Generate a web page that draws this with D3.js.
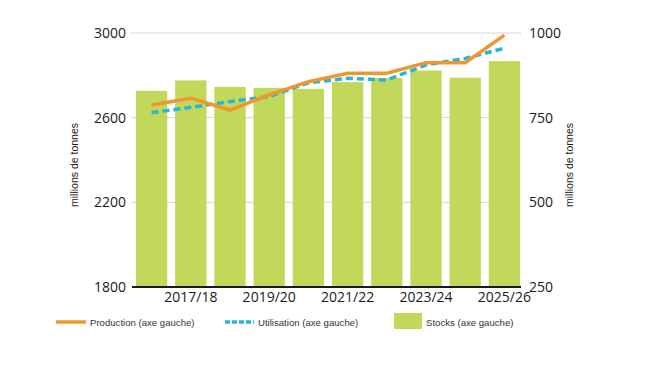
<!DOCTYPE html>
<html lang="fr">
<head>
<meta charset="UTF-8">
<title>Production, utilisation et stocks</title>
<script src="https://d3js.org/d3.v7.min.js"></script>
<style>
  body { margin: 0; background: #fff; }
  svg text { font-family: "Open Sans", "Noto Sans", sans-serif; fill: #1a1a1a; }
  .legend text { font-family: "Liberation Sans", Arial, sans-serif; font-size: 9.6px; fill: #333; }
  .ytitle { font-family: "Liberation Sans", Arial, sans-serif !important; }
</style>
</head>
<body>
<script>
  // data
  const seasons = ["2016/17", "2017/18", "2018/19", "2019/20", "2020/21",
                   "2021/22", "2022/23", "2023/24", "2024/25", "2025/26"];
  const production = [2660, 2692, 2636, 2708, 2770, 2810, 2810, 2860, 2860, 2990];
  const utilisation = [2624, 2649, 2676, 2700, 2765, 2786, 2778, 2849, 2880, 2928];
  const stocks = [829, 860, 841, 838, 835, 855, 867, 889, 868, 917];
  const leftTicks = [1800, 2200, 2600, 3000];
  const rightTicks = [250, 500, 750, 1000];
  const shownLabels = ["2017/18", "2019/20", "2021/22", "2023/24", "2025/26"];

  const width = 650, height = 366;
  const plotL = 132, plotR = 524, plotT = 33, plotB = 287;

  const svg = d3.select("body").append("svg")
    .attr("width", width)
    .attr("height", height);

  const x = d3.scaleBand()
    .domain(seasons)
    .range([plotL, plotR])
    .paddingInner(0.2)
    .paddingOuter(0.1);

  const yLeft = d3.scaleLinear().domain([1800, 3000]).range([plotB, plotT]);
  const yRight = d3.scaleLinear().domain([250, 1000]).range([plotB, plotT]);

  // gridlines
  svg.append("g")
    .selectAll("line")
    .data(leftTicks.slice(1))
    .enter().append("line")
    .attr("x1", plotL - 1).attr("x2", plotR - 3)
    .attr("y1", d => yLeft(d)).attr("y2", d => yLeft(d))
    .attr("stroke", "#d6d6d6").attr("stroke-width", 1);

  // stocks bars (right axis)
  svg.append("g")
    .selectAll("rect")
    .data(stocks)
    .enter().append("rect")
    .attr("x", (d, i) => x(seasons[i]))
    .attr("width", x.bandwidth())
    .attr("y", d => yRight(d))
    .attr("height", d => plotB - yRight(d))
    .attr("fill", "#c1d85a");

  const line = yScale => d3.line()
    .x((d, i) => x(seasons[i]) + x.bandwidth() / 2)
    .y(d => yScale(d));

  svg.append("path")
    .datum(utilisation)
    .attr("d", line(yLeft))
    .attr("fill", "none")
    .attr("stroke", "#29b5d8")
    .attr("stroke-width", 3.5)
    .attr("stroke-dasharray", "7,4");

  svg.append("path")
    .datum(production)
    .attr("d", line(yLeft))
    .attr("fill", "none")
    .attr("stroke", "#ef962f")
    .attr("stroke-width", 3.5);

  // baseline
  svg.append("line")
    .attr("x1", plotL).attr("x2", plotR - 3)
    .attr("y1", plotB).attr("y2", plotB)
    .attr("stroke", "#1a1a1a").attr("stroke-width", 2);

  // left axis
  const axL = svg.append("g")
    .attr("transform", `translate(${plotL - 6},0)`)
    .call(d3.axisLeft(yLeft).tickValues(leftTicks).tickSize(0).tickPadding(0).tickFormat(d3.format("d")));
  axL.select(".domain").remove();
  axL.selectAll("text").style("font-size", "14px").attr("fill", "#1a1a1a");

  // right axis
  const axR = svg.append("g")
    .attr("transform", `translate(${plotR + 5},0)`)
    .call(d3.axisRight(yRight).tickValues(rightTicks).tickSize(0).tickPadding(0).tickFormat(d3.format("d")));
  axR.select(".domain").remove();
  axR.selectAll("text").style("font-size", "14px").attr("fill", "#1a1a1a");

  // x labels
  const axX = svg.append("g")
    .attr("transform", `translate(0,${plotB + 3})`)
    .call(d3.axisBottom(x).tickValues(shownLabels).tickSize(0).tickPadding(0));
  axX.select(".domain").remove();
  axX.selectAll("text").style("font-size", "14px").attr("fill", "#1a1a1a").attr("dy", "0.85em");

  // axis titles
  svg.append("text")
    .attr("class", "ytitle")
    .attr("transform", `translate(78,${(plotT + plotB) / 2 + 5}) rotate(-90)`)
    .attr("text-anchor", "middle")
    .style("font-size", "10.5px")
    .text("millions de tonnes");

  svg.append("text")
    .attr("class", "ytitle")
    .attr("transform", `translate(573,${(plotT + plotB) / 2 + 5}) rotate(-90)`)
    .attr("text-anchor", "middle")
    .style("font-size", "10.5px")
    .text("millions de tonnes");

  // legend
  const lg = svg.append("g").attr("class", "legend");
  const ly = 322;
  lg.append("line")
    .attr("x1", 56).attr("x2", 86).attr("y1", ly).attr("y2", ly)
    .attr("stroke", "#ef962f").attr("stroke-width", 3.5);
  lg.append("text").attr("x", 90).attr("y", ly + 4).text("Production (axe gauche)");

  lg.append("line")
    .attr("x1", 225).attr("x2", 254).attr("y1", ly).attr("y2", ly)
    .attr("stroke", "#29b5d8").attr("stroke-width", 3.5)
    .attr("stroke-dasharray", "5,2");
  lg.append("text").attr("x", 258).attr("y", ly + 4).text("Utilisation (axe gauche)");

  lg.append("rect")
    .attr("x", 394).attr("y", 313).attr("width", 28).attr("height", 16)
    .attr("fill", "#c1d85a");
  lg.append("text").attr("x", 426).attr("y", ly + 4).text("Stocks (axe gauche)");
</script>
</body>
</html>
